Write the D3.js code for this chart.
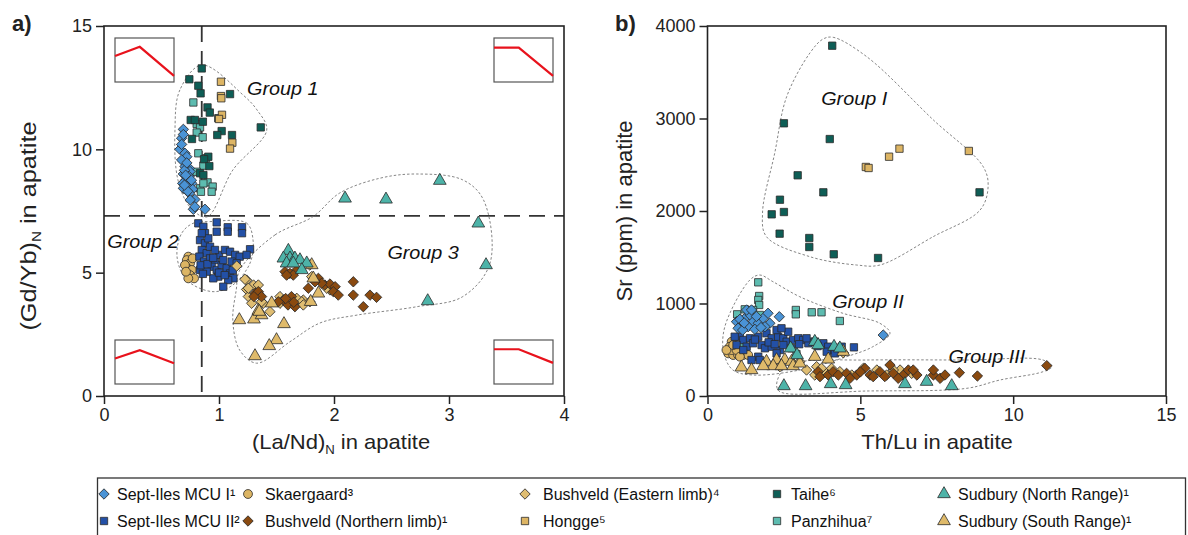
<!DOCTYPE html>
<html><head><meta charset="utf-8">
<script src="https://cdn.jsdelivr.net/npm/d3@7"></script>
<style>body{margin:0;background:#fff;} svg{display:block;font-family:"Liberation Sans",Arial,sans-serif;}</style>
</head><body><svg id="c" width="1188" height="535"></svg>
<script>
// ---------- DATA ----------
const seriesNames = ["Sept-Iles MCU I¹","Sept-Iles MCU II²","Skaergaard³","Bushveld (Northern limb)¹","Bushveld (Eastern limb)⁴","Hongge⁵","Taihe⁶","Panzhihua⁷","Sudbury (North Range)¹","Sudbury (South Range)¹"];
const seriesKeys = ["mcu1","mcu2","skaer","bushN","bushE","hongge","taihe","panzhihua","sudN","sudS"];

const xTicksA = [0,1,2,3,4];
const yTicksA = [0,5,10,15];
const xTicksB = [0,5,10,15];
const yTicksB = [0,1000,2000,3000,4000];
const refLaNd = 0.85;
const refGdYb = 7.3;

// Panel a: [(La/Nd)N, (Gd/Yb)N]
const mcu1_a = [[0.69,10.81],[0.675,10.45],[0.66,10.0],[0.704,9.84],[0.72,9.7],[0.675,9.57],[0.704,9.3],[0.742,9.23],[0.69,9.0],[0.733,8.89],[0.713,8.76],[0.763,8.62],[0.684,8.62],[0.725,8.49],[0.69,8.42],[0.771,8.38],[0.742,8.22],[0.79,7.97],[0.777,7.57],[0.878,7.57],[0.75,7.95],[0.79,7.67],[0.748,9.1],[0.7,9.15],[0.74,8.9],[0.71,8.95],[0.728,8.3],[0.675,10.2],[0.69,10.6],[0.72,9.45],[0.76,8.75],[0.7,8.55]];
const mcu2_a = [[0.82,7.0],[0.98,7.04],[0.98,6.66],[1.076,6.84],[1.076,6.66],[1.2,6.84],[1.2,6.6],[0.864,6.86],[0.878,6.6],[0.835,6.32],[0.878,6.19],[0.85,5.92],[0.893,5.79],[0.829,5.65],[0.87,5.45],[0.922,5.58],[0.965,5.51],[1.0,5.72],[1.052,5.92],[1.096,5.85],[1.14,5.72],[1.18,5.65],[1.27,5.95],[1.24,5.72],[0.936,5.24],[0.98,5.11],[1.023,5.31],[1.067,5.18],[1.096,4.97],[1.125,4.77],[1.08,4.7],[1.037,4.43],[0.994,4.84],[0.95,4.77],[0.835,5.11],[0.893,5.04],[1.11,5.45],[1.154,5.38],[0.922,6.05],[0.965,5.92],[1.037,5.51],[0.907,6.39],[0.85,6.6],[0.84,5.3],[0.86,4.95],[1.0,5.0],[1.05,4.9],[1.12,5.1],[0.9,5.35],[0.95,5.6]];
const skaer_a = [[0.733,5.65],[0.72,5.51],[0.748,5.38],[0.725,5.18],[0.763,5.11],[0.748,4.9],[0.783,4.77],[0.733,4.77],[0.704,5.31],[0.771,5.58],[0.713,5.04]];
const bushN_a = [[1.313,4.16],[1.342,4.23],[1.37,4.03],[1.304,4.03],[1.56,3.89],[1.6,3.69],[1.63,4.03],[1.516,3.82],[1.66,3.62],[1.574,5.04],[1.617,4.97],[1.676,5.11],[1.646,4.9],[1.588,4.9],[1.864,4.77],[1.92,4.5],[1.965,4.54],[2.01,4.43],[1.994,4.23],[2.037,4.09],[1.777,4.37],[2.168,4.63],[2.168,4.09],[2.313,4.09],[2.37,4.0],[2.255,3.62],[1.893,4.57],[1.835,4.63],[1.58,3.95],[1.65,3.8]];
const bushE_a = [[1.154,5.27],[1.24,4.7],[1.24,4.32],[1.3,4.5],[1.342,4.16],[1.255,4.03],[1.443,3.42],[1.53,3.89],[1.59,3.89],[1.676,3.89],[1.733,3.89],[1.79,3.82],[1.385,3.76],[1.82,4.77],[1.965,4.3],[1.226,4.73],[1.342,4.5],[1.255,4.37],[1.284,3.76],[1.37,3.82],[1.53,4.03],[1.53,3.76],[1.676,3.96],[1.72,3.82],[1.806,4.84],[1.937,4.37],[1.79,5.31],[1.733,3.69]];
const hongge_a = [[1.017,12.74],[1.017,12.16],[1.02,12.07],[1.026,11.4],[1.0,11.23],[1.116,10.27],[1.096,10.03]];
const taihe_a = [[0.85,13.28],[0.742,12.84],[0.82,12.58],[0.84,12.27],[1.096,12.24],[0.9,11.7],[0.92,11.49],[0.994,11.26],[0.754,11.19],[0.79,11.19],[0.86,11.12],[1.363,10.89],[1.023,10.74],[0.985,10.58],[1.113,10.58],[0.765,10.42],[0.907,9.7],[0.87,9.6],[0.916,9.32],[0.835,9.03],[0.864,8.96]];
const panzhihua_a = [[0.777,11.9],[0.806,11.03],[0.835,10.89],[0.806,10.68],[0.858,10.49],[0.82,9.84],[0.887,9.64],[0.864,9.34],[0.9,8.66],[0.945,8.49],[0.835,8.42],[0.864,8.62],[0.936,8.28],[0.843,8.28],[0.806,9.09]];
const sudN_a = [[1.603,5.89],[1.56,5.58],[1.617,5.58],[1.66,5.58],[1.704,5.51],[1.588,5.38],[1.646,5.38],[1.763,5.38],[1.72,5.11],[2.096,8.01],[2.452,7.97],[2.92,8.73],[3.255,7.0],[3.322,5.31],[2.815,3.85]];
const sudS_a = [[1.177,3.08],[1.304,3.11],[1.37,3.28],[1.342,3.46],[1.565,2.92],[1.5,2.27],[1.437,2.03],[1.313,1.62],[1.864,4.16],[1.797,3.82],[1.458,3.76],[1.806,5.31],[1.82,4.77],[1.35,3.42]];

// Panel b: [Th/Lu, Sr ppm]
const mcu1_b = [[0.95,803],[1.11,768],[1.0,732],[1.22,840],[1.39,876],[1.49,803],[1.33,749],[1.66,786],[1.82,840],[1.98,894],[2.04,786],[1.88,749],[2.35,857],[1.15,713],[5.75,659],[1.55,721],[1.06,829],[1.28,930],[1.44,930],[1.2,790],[1.6,860],[1.75,740]];
const mcu2_b = [[1.06,641],[1.17,605],[1.39,624],[1.66,641],[1.93,678],[2.1,624],[2.31,641],[2.48,624],[2.64,695],[2.59,587],[2.8,605],[2.97,624],[3.13,605],[3.3,570],[3.51,587],[3.79,570],[3.95,533],[4.11,497],[4.39,533],[4.79,526],[1.28,533],[1.49,570],[1.77,551],[1.88,516],[2.1,533],[2.37,497],[2.75,516],[2.48,551],[1.66,425],[1.44,389],[1.71,389],[2.26,461],[3.9,479],[4.17,461],[3.24,624],[2.26,713],[2.42,732],[0.89,641],[0.95,551],[1.17,497],[2.0,580],[2.2,560],[1.55,610],[3.0,560],[3.6,540]];
const skaer_b = [[0.79,587],[0.73,533],[0.68,461],[0.84,443],[1.0,443],[1.17,443],[1.33,443],[0.79,497],[0.95,497],[0.62,497],[0.84,551],[1.06,425]];
const bushN_b = [[3.62,263],[3.68,209],[3.95,227],[4.11,263],[4.28,227],[4.55,245],[4.88,227],[5.15,299],[5.32,227],[5.64,263],[5.97,335],[6.08,245],[6.41,227],[6.57,281],[6.85,227],[7.39,227],[7.61,191],[7.77,227],[8.24,252],[8.83,216],[11.1,328],[4.66,191],[5.42,209],[6.24,191],[6.73,281],[7.39,281],[5.0,260],[5.8,210]];
const bushE_b = [[3.24,281],[3.57,317],[3.73,299],[3.51,227],[3.9,245],[4.06,299],[4.33,263],[4.72,227],[5.1,299],[5.54,281],[5.86,227],[6.3,281],[6.68,245],[4.44,468],[3.02,371],[2.37,317],[6.08,281]];
const hongge_b = [[5.18,2476],[5.27,2465],[5.94,2587],[6.28,2674],[8.55,2649]];
const taihe_b = [[4.08,3787],[2.5,2948],[4.0,2778],[2.95,2386],[3.79,2202],[8.9,2202],[2.37,2122],[2.5,1989],[2.1,1964],[2.36,1755],[3.33,1708],[3.33,1611],[4.13,1532],[5.58,1492]];
const panzhihua_b = [[1.66,1229],[1.69,1081],[1.66,1038],[1.69,984],[2.89,930],[2.89,883],[3.41,905],[3.73,905],[4.33,811],[0.97,883],[1.22,937],[1.49,930],[1.71,876],[1.17,551],[2.91,454],[3.46,587],[3.68,551]];
const sudN_b = [[2.5,108],[3.21,108],[4.03,130],[4.52,119],[6.46,130],[7.17,155],[7.99,108],[2.72,516],[3.51,587],[3.62,551],[4.14,533],[2.93,443],[4.33,516]];
const sudS_b = [[1.11,310],[1.44,281],[1.93,371],[2.26,389],[2.53,389],[2.75,371],[2.15,324],[1.82,324],[2.42,324],[2.8,324],[3.51,425],[3.95,396],[4.44,479],[3.02,353]];

// group outlines (data coordinates)
const group1 = [[0.85,13.42],[0.66,12.41],[0.617,10.78],[0.643,8.76],[0.748,7.66],[0.895,7.26],[1.12,9.16],[1.415,10.78],[1.33,11.6],[1.21,12.2]];
const group2 = [[0.92,7.07],[1.24,7.01],[1.296,6.32],[1.27,5.39],[1.12,4.5],[0.948,4.23],[0.72,4.7],[0.635,5.65],[0.676,6.6],[0.774,7.0]];
const group3 = [[1.18,5.1],[1.487,6.53],[1.817,7.27],[2.05,8.23],[2.4,8.83],[2.72,9.0],[3.12,8.76],[3.3,7.95],[3.357,5.39],[3.12,4.03],[2.72,3.62],[2.2,3.28],[1.878,2.96],[1.617,2.2],[1.328,1.33],[1.18,1.86],[1.12,3.08],[1.15,4.3]];
const groupI = [[3.78,3859],[4.11,3878],[5.21,3668],[7.39,2984],[9.02,2479],[9.18,2263],[8.92,2011],[7.38,1722],[5.64,1416],[4.88,1416],[3.35,1506],[1.93,1722],[1.8,1978],[2.2,2627],[2.59,3236],[3.35,3708]];
const groupII = [[1.71,1308],[1.385,1254],[0.567,749],[0.534,465],[0.83,281],[1.48,227],[3.02,281],[4.55,425],[5.41,533],[5.97,678],[5.64,786],[4.43,894],[3.02,1073],[2.14,1236]];
const groupIII = [[2.47,281],[3.02,368],[5.21,389],[8.48,389],[10.98,389],[11.27,317],[10.98,263],[9.57,173],[8.48,83],[5.21,54],[2.37,46],[2.26,119]];

// REE profile insets (x fraction, y fraction from top of box)
const insetTL = [[0,0.41],[0.42,0.2],[1,0.86]];
const insetTR = [[0,0.22],[0.42,0.22],[1,0.86]];
const insetBL = [[0,0.42],[0.42,0.23],[1,0.53]];
const insetBR = [[0,0.21],[0.42,0.21],[1,0.52]];

// ---------- STYLE ----------
const style = {
  mcu1:{shape:"diamond",fill:"#4a93d5"},
  mcu2:{shape:"square",fill:"#2350a6"},
  skaer:{shape:"circle",fill:"#dcb564"},
  bushN:{shape:"diamond",fill:"#8a4a10"},
  bushE:{shape:"diamond",fill:"#dfbd72"},
  hongge:{shape:"square",fill:"#ddb564"},
  taihe:{shape:"square",fill:"#0e5e56"},
  panzhihua:{shape:"square",fill:"#5dbcb0"},
  sudN:{shape:"triangle",fill:"#4db3a8"},
  sudS:{shape:"triangle",fill:"#dfba6a"}
};
const dataA = {mcu1:mcu1_a,mcu2:mcu2_a,skaer:skaer_a,bushN:bushN_a,bushE:bushE_a,hongge:hongge_a,taihe:taihe_a,panzhihua:panzhihua_a,sudN:sudN_a,sudS:sudS_a};
const dataB = {mcu1:mcu1_b,mcu2:mcu2_b,skaer:skaer_b,bushN:bushN_b,bushE:bushE_b,hongge:hongge_b,taihe:taihe_b,panzhihua:panzhihua_b,sudN:sudN_b,sudS:sudS_b};
const drawOrder = ["panzhihua","taihe","hongge","skaer","mcu2","mcu1","bushE","bushN","sudS","sudN"];

function symPath(shape){
  if(shape==="diamond") return d3.symbol(d3.symbolSquare,54)();
  if(shape==="square") return d3.symbol(d3.symbolSquare,54)();
  if(shape==="circle") return d3.symbol(d3.symbolCircle,62)();
  return d3.symbol(d3.symbolTriangle,70)();
}
function symRot(shape){ return shape==="diamond" ? " rotate(45)" : ""; }

const svg = d3.select("#c");
const FONT = '"Liberation Sans",Arial,sans-serif';

function panel(opt){
  const x = d3.scaleLinear().domain(opt.xd).range([opt.x0,opt.x1]);
  const y = d3.scaleLinear().domain(opt.yd).range([opt.y1,opt.y0]);
  const g = svg.append("g");
  const st = a=>{a.select(".domain").remove();a.selectAll("line").attr("stroke","#222").attr("stroke-width",1.5);a.selectAll("text").attr("font-size",18).attr("font-family",FONT).attr("fill","#222");};
  g.append("g").attr("transform",`translate(0,${opt.y1})`)
    .call(d3.axisBottom(x).tickValues(opt.xt).tickSize(8).tickPadding(4).tickFormat(d3.format("d"))).call(st);
  g.append("g").attr("transform",`translate(${opt.x0},0)`)
    .call(d3.axisLeft(y).tickValues(opt.yt).tickSize(8).tickPadding(4).tickFormat(d3.format("d"))).call(st);
  return {x,y,g};
}

const A = panel({xd:[0,4],yd:[0,15],x0:104,x1:564,y0:26,y1:396,xt:xTicksA,yt:yTicksA});
const B = panel({xd:[0,15],yd:[0,4000],x0:707.5,x1:1166,y0:26,y1:396,xt:xTicksB,yt:yTicksB});

// reference dashed lines panel a
A.g.append("line").attr("x1",A.x(0)).attr("x2",A.x(4)).attr("y1",A.y(refGdYb)).attr("y2",A.y(refGdYb))
  .attr("stroke","#333").attr("stroke-width",1.8).attr("stroke-dasharray","16,9");
A.g.append("line").attr("x1",A.x(refLaNd)).attr("x2",A.x(refLaNd)).attr("y1",A.y(15)).attr("y2",A.y(0))
  .attr("stroke","#333").attr("stroke-width",1.8).attr("stroke-dasharray","16,9");

// group outlines
function hull(P,pts){
  const line = d3.line().x(d=>P.x(d[0])).y(d=>P.y(d[1])).curve(d3.curveCatmullRomClosed.alpha(0.5));
  P.g.append("path").attr("d",line(pts)).attr("fill","none").attr("stroke","#777").attr("stroke-width",0.9).attr("stroke-dasharray","2.5,2");
}
hull(A,group1);hull(A,group2);hull(A,group3);
hull(B,groupI);hull(B,groupII);hull(B,groupIII);

// points
function drawPoints(P,data){
  drawOrder.forEach(k=>{
    const s=style[k];
    P.g.append("g").selectAll("path").data(data[k]).join("path")
      .attr("d",symPath(s.shape))
      .attr("transform",d=>`translate(${P.x(d[0])},${P.y(d[1])})${symRot(s.shape)}`)
      .attr("fill",s.fill).attr("stroke","#2b2b2b").attr("stroke-width",0.8);
  });
}
drawPoints(A,dataA);
drawPoints(B,dataB);

// frames
[A,B].forEach(P=>{
  const [xa,xb]=P.x.range(),[ya,yb]=P.y.range();
  P.g.append("rect").attr("x",xa).attr("y",yb).attr("width",xb-xa).attr("height",ya-yb)
    .attr("fill","none").attr("stroke","#222").attr("stroke-width",1.6);
});

// insets
function inset(bx,by,prof){
  const w=59,h=44;
  A.g.append("rect").attr("x",bx).attr("y",by).attr("width",w).attr("height",h).attr("fill","#fff").attr("stroke","#555").attr("stroke-width",1.2);
  A.g.append("path").attr("d",d3.line().x(d=>bx+d[0]*w).y(d=>by+d[1]*h)(prof)).attr("fill","none").attr("stroke","#e8121c").attr("stroke-width",2.2);
}
inset(A.x(0)+11,A.y(15)+12,insetTL);
inset(A.x(4)-70,A.y(15)+12,insetTR);
inset(A.x(0)+11,A.y(0)-56,insetBL);
inset(A.x(4)-70,A.y(0)-56,insetBR);

// group labels
function glabel(P,xv,yv,t){
  P.g.append("text").attr("transform",`translate(${P.x(xv)},${P.y(yv)}) scale(1.1,1)`).attr("text-anchor","middle").attr("dominant-baseline","central")
    .attr("font-size",18).attr("font-style","italic").attr("font-family",FONT).attr("fill","#111").text(t);
}
glabel(A,1.555,12.45,"Group 1");
glabel(A,0.34,6.24,"Group 2");
glabel(A,2.775,5.8,"Group 3");
glabel(B,4.8,3216,"Group I");
glabel(B,5.25,1016,"Group II");
glabel(B,9.14,427,"Group III");

// axis titles
function subTitle(x,y,rot,sx,fs,pre,sub,post){
  const t=svg.append("text").attr("transform",`translate(${x},${y}) rotate(${rot}) scale(${sx},1)`).attr("text-anchor","middle")
    .attr("font-size",fs).attr("font-family",FONT).attr("fill","#222");
  t.append("tspan").text(pre);
  if(sub){ t.append("tspan").attr("font-size",fs*0.6).attr("dy",5).text(sub); t.append("tspan").attr("dy",-5).text(post); }
}
subTitle(341,449,0,1.1,20,"(La/Nd)","N"," in apatite");
subTitle(36,226,-90,1.15,22,"(Gd/Yb)","N"," in apatite");
subTitle(632,211,-90,1,22,"Sr (ppm) in apatite");
subTitle(937,449,0,1.1,20,"Th/Lu in apatite");

svg.append("text").attr("x",12).attr("y",31).attr("font-size",22).attr("font-weight","bold").attr("font-family",FONT).attr("fill","#222").text("a)");
svg.append("text").attr("x",615).attr("y",31).attr("font-size",22).attr("font-weight","bold").attr("font-family",FONT).attr("fill","#222").text("b)");

// legend
svg.append("rect").attr("x",97.5).attr("y",478).attr("width",1088).attr("height",70).attr("fill","none").attr("stroke","#333").attr("stroke-width",1.3);
const legX=[104,248,525,777,944], legTX=[117,265,543,791,958], legY=[494,521];
seriesKeys.forEach((k,i)=>{
  const c=Math.floor(i/2), r=i%2, s=style[k];
  svg.append("path").attr("d",symPath(s.shape)).attr("transform",`translate(${legX[c]},${legY[r]})${symRot(s.shape)}`)
    .attr("fill",s.fill).attr("stroke","#2b2b2b").attr("stroke-width",0.8);
  svg.append("text").attr("x",legTX[c]).attr("y",legY[r]).attr("dominant-baseline","central").attr("font-size",16)
    .attr("font-family",FONT).attr("fill","#111").text(seriesNames[i]);
});
</script></body></html>
